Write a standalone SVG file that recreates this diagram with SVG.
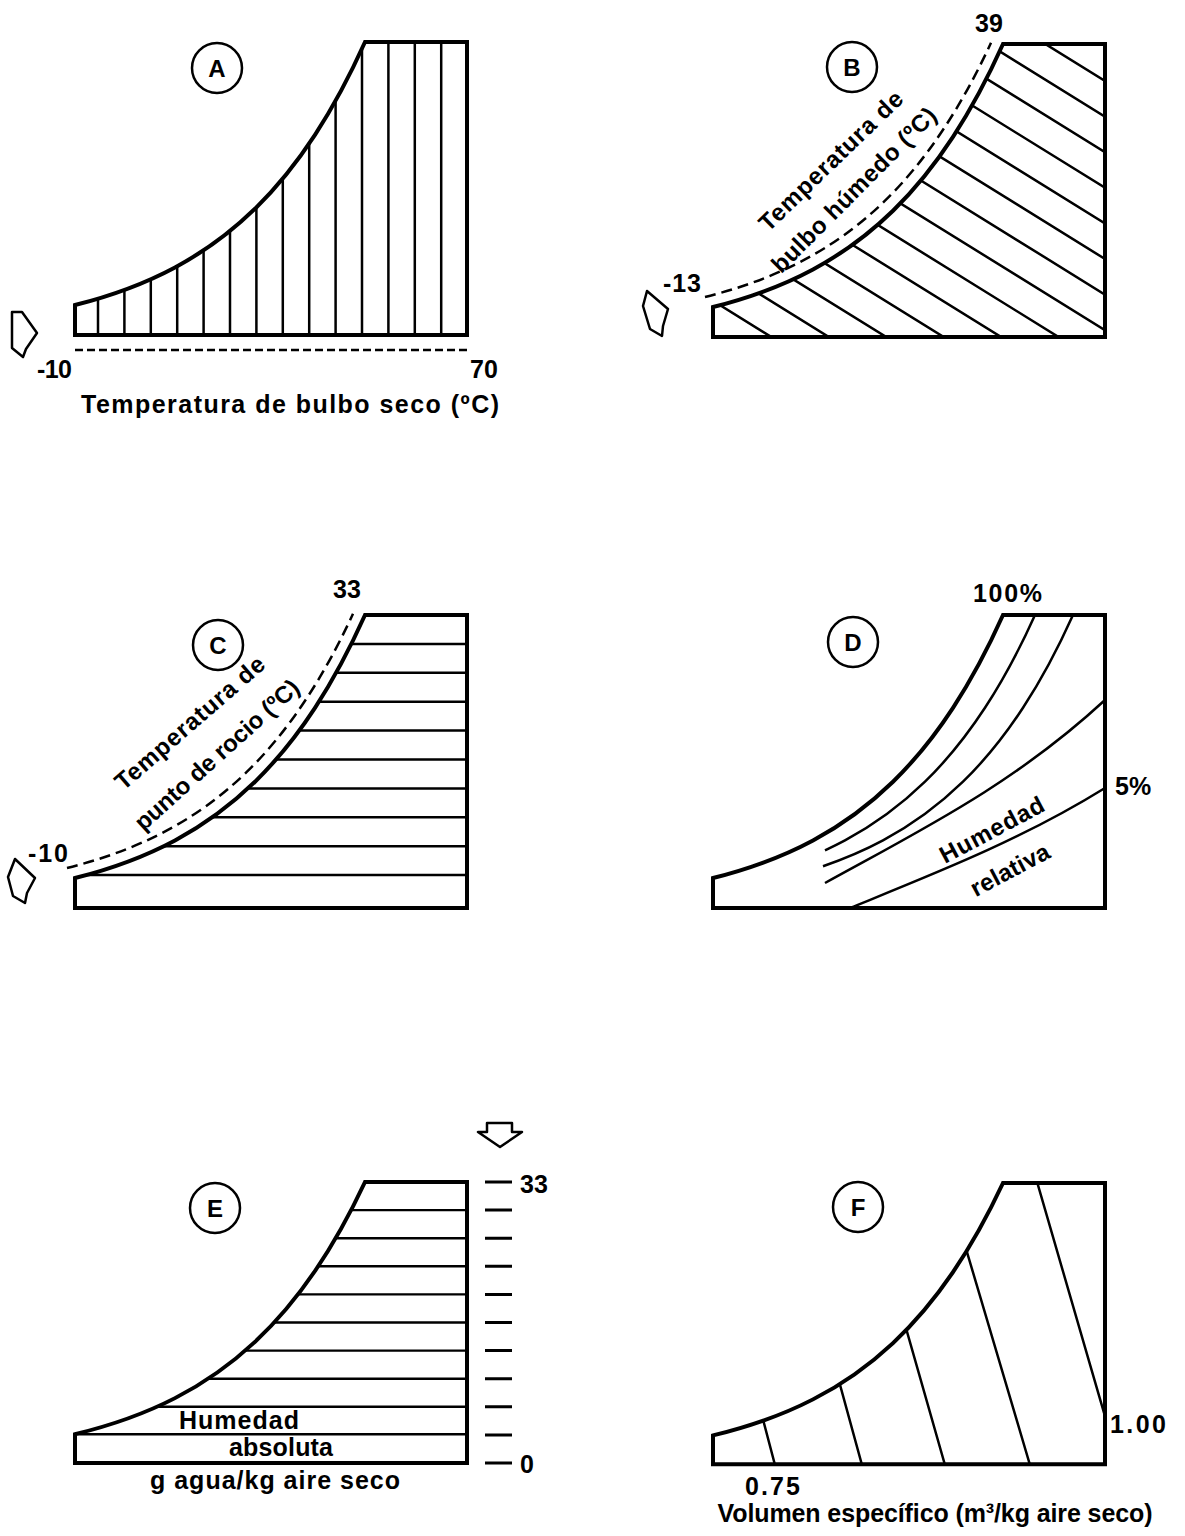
<svg xmlns="http://www.w3.org/2000/svg" xmlns:xlink="http://www.w3.org/1999/xlink" width="1185" height="1536" viewBox="0 0 1185 1536">
<style>
.box{fill:none;stroke:#000;stroke-width:4;stroke-linejoin:miter}
.hatch{fill:none;stroke:#000;stroke-width:2.5}
.thin{fill:none;stroke:#000;stroke-width:2.5}
.dash{fill:none;stroke:#000;stroke-width:2.5;stroke-dasharray:11 6}
.circ{fill:none;stroke:#000;stroke-width:2.5}
.arrow{fill:#fff;stroke:#000;stroke-width:2.5;stroke-linejoin:round}
.tick{stroke:#000;stroke-width:3}
text{font-family:"Liberation Sans",Arial,sans-serif;font-weight:bold;font-size:25px;fill:#000}
.let{font-size:24px;text-anchor:middle}
.rot{font-size:24px;text-anchor:middle}
</style>
<defs>
<path id="outline" d="M0,263 C33.33,254.57 66.67,243.24 100,225.4 C126.67,211.13 153.33,192.7 180,166.7 C200,147.2 220,123.38 240,92.8 C256.67,67.32 273.33,37.08 290,0 L392,0 L392,293 L0,293 Z"/>
<path id="dcurve" d="M0,263 C33.33,254.57 66.67,243.24 100,225.4 C126.67,211.13 153.33,192.7 180,166.7 C200,147.2 220,123.38 240,92.8 C255.33,69.36 270.67,41.91 286,8.8"/>
<clipPath id="region"><use xlink:href="#outline"/></clipPath>
</defs>

<g id="panel-A">
  <g transform="translate(75,42)">
    <g clip-path="url(#region)" class="hatch">
      <path d="M23,0V293M49.4,0V293M75.8,0V293M102.2,0V293M128.6,0V293M155,0V293M181.4,0V293M207.8,0V293M234.2,0V293M260.6,0V293M287,0V293M313.4,0V293M339.8,0V293M366.2,0V293"/>
    </g>
    <use xlink:href="#outline" class="box"/>
  </g>
  <circle class="circ" cx="217" cy="68" r="25"/>
  <text class="let" x="217" y="77">A</text>
  <path class="thin" d="M75,350 H467" style="stroke-dasharray:8 4"/>
  <polygon class="arrow" points="12,312 22,312 37,333 26,349 23,357 12,348"/>
  <text x="37" y="378" textLength="35" lengthAdjust="spacing">-10</text>
  <text x="470" y="378">70</text>
  <text x="290" y="413" text-anchor="middle" textLength="418" lengthAdjust="spacing">Temperatura de bulbo seco (ºC)</text>
</g>

<g id="panel-B">
  <g transform="translate(713,44)">
    <g clip-path="url(#region)" class="hatch">
      <path d="M0,-206 L392,37M0,-170.4 L392,72.6M0,-134.8 L392,108.2M0,-99.2 L392,143.8M0,-63.6 L392,179.4M0,-28 L392,215M0,7.6 L392,250.6M0,43.2 L392,286.2M0,78.8 L392,321.8M0,114.4 L392,357.4M0,150 L392,393M0,185.6 L392,428.6M0,221.2 L392,464.2M0,256.8 L392,499.8"/>
    </g>
    <use xlink:href="#outline" class="box"/>
    <use xlink:href="#dcurve" class="dash" transform="translate(-8,-10)"/>
  </g>
  <circle class="circ" cx="852" cy="67" r="25"/>
  <text class="let" x="852" y="76">B</text>
  <text x="975" y="32">39</text>
  <text x="663" y="292" textLength="38" lengthAdjust="spacing">-13</text>
  <polygon class="arrow" points="647,291 668,309 663,326 662,336 650,329 643,306"/>
  <text class="rot" transform="translate(831,161) rotate(-44)" dy="8" textLength="190" lengthAdjust="spacing">Temperatura de</text>
  <text class="rot" transform="translate(854,190) rotate(-45)" dy="8" textLength="222" lengthAdjust="spacing">bulbo húmedo (ºC)</text>
</g>

<g id="panel-C">
  <g transform="translate(75,615)">
    <g clip-path="url(#region)" class="hatch">
      <path d="M0,28.9H392M0,57.8H392M0,86.7H392M0,115.6H392M0,144.5H392M0,173.4H392M0,202.3H392M0,231.2H392M0,260.1H392"/>
    </g>
    <use xlink:href="#outline" class="box"/>
    <use xlink:href="#dcurve" class="dash" transform="translate(-8,-10)"/>
  </g>
  <circle class="circ" cx="218" cy="645" r="25"/>
  <text class="let" x="218" y="654">C</text>
  <text x="333" y="598">33</text>
  <text x="28" y="862" textLength="40" lengthAdjust="spacing">-10</text>
  <polygon class="arrow" points="15,859 35,878 27,893 25,903 13,896 8,877"/>
  <text class="rot" transform="translate(190,723) rotate(-41)" dy="8" textLength="190" lengthAdjust="spacing">Temperatura de</text>
  <text class="rot" transform="translate(217,755) rotate(-42)" dy="8" textLength="212" lengthAdjust="spacing">punto de rocio (ºC)</text>
</g>

<g id="panel-D">
  <g transform="translate(713,615)">
    <use xlink:href="#outline" class="box"/>
    <path class="thin" transform="translate(32,0)" d="M80,235.3 C86.67,232.23 93.33,228.97 100,225.4 C126.67,211.13 153.33,192.7 180,166.7 C200,147.2 220,123.38 240,92.8 C256.67,67.32 273.33,37.08 290,0"/>
    <path class="thin" transform="translate(70,0)" d="M40,251.2 C60,244.37 80,236.1 100,225.4 C126.67,211.13 153.33,192.7 180,166.7 C200,147.2 220,123.38 240,92.8 C256.67,67.32 273.33,37.08 290,0"/>
  </g>
  <path class="thin" d="M825,883 C919,831 1013,785 1105,700"/>
  <path class="thin" d="M850,908 C936,873 1021,840 1105,788"/>
  <circle class="circ" cx="853" cy="642" r="25"/>
  <text class="let" x="853" y="651">D</text>
  <text x="973" y="602" textLength="69" lengthAdjust="spacing">100%</text>
  <text x="1115" y="795">5%</text>
  <text class="rot" transform="translate(992,830) rotate(-28)" dy="8" textLength="115" lengthAdjust="spacing">Humedad</text>
  <text class="rot" transform="translate(1010,870) rotate(-28)" dy="8" textLength="86" lengthAdjust="spacing">relativa</text>
</g>

<g id="panel-E">
  <g transform="translate(75,1182) scale(1,0.959)">
    <g clip-path="url(#region)" class="hatch">
      <path d="M0,29.3H392M0,58.6H392M0,87.9H392M0,117.2H392M0,146.5H392M0,175.8H392M0,205.1H392M0,234.4H392"/>
    </g>
    <path class="hatch" d="M0,263H392"/>
    <use xlink:href="#outline" class="box"/>
  </g>
  <path class="tick" d="M485,1182H512M485,1210.1H512M485,1238.2H512M485,1266.3H512M485,1294.4H512M485,1322.5H512M485,1350.6H512M485,1378.7H512M485,1406.8H512M485,1434.9H512M485,1463H512"/>
  <polygon class="arrow" points="487,1123 512,1123 512,1132 522,1132 500,1147 478,1132 487,1132"/>
  <circle class="circ" cx="215" cy="1208" r="25"/>
  <text class="let" x="215" y="1217">E</text>
  <text x="520" y="1193">33</text>
  <text x="520" y="1473">0</text>
  <text x="179" y="1429" textLength="120" lengthAdjust="spacing">Humedad</text>
  <text x="229" y="1456" textLength="104" lengthAdjust="spacing">absoluta</text>
  <text x="275" y="1489" text-anchor="middle" textLength="250" lengthAdjust="spacing">g agua/kg aire seco</text>
</g>

<g id="panel-F">
  <g transform="translate(713,1183) scale(1,0.96)">
    <g clip-path="url(#region)" class="hatch">
      <path d="M-14.7,-10 L62,293.75M69.1,-10 L149,293.75M148.9,-10 L232,293.75M230.7,-10 L317,293.75M321.6,-10 L406.1,293.75"/>
    </g>
    <use xlink:href="#outline" class="box"/>
  </g>
  <circle class="circ" cx="858" cy="1207" r="25"/>
  <text class="let" x="858" y="1216">F</text>
  <text x="1110" y="1433" textLength="56" lengthAdjust="spacing">1.00</text>
  <text x="745" y="1495" textLength="55" lengthAdjust="spacing">0.75</text>
  <text x="935" y="1522" text-anchor="middle" textLength="435" lengthAdjust="spacing">Volumen específico (m³/kg aire seco)</text>
</g>
</svg>
